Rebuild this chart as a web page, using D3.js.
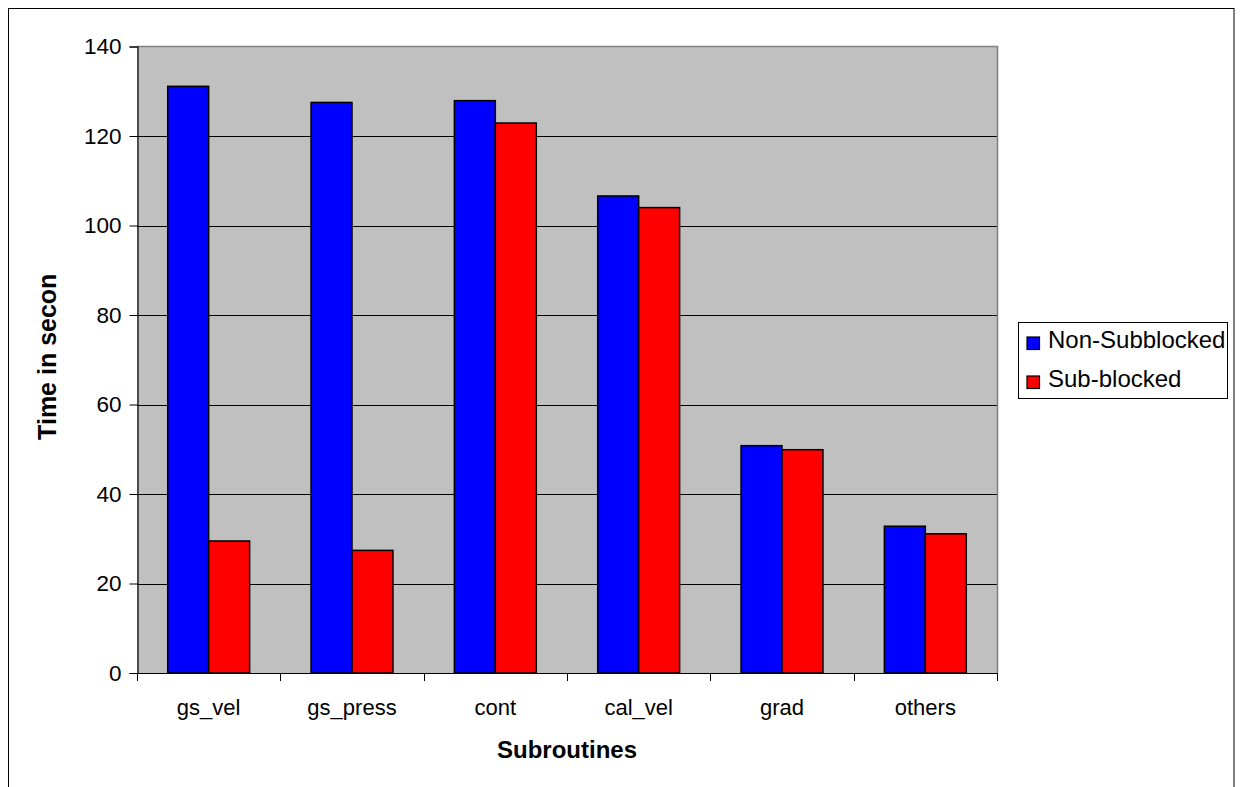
<!DOCTYPE html>
<html>
<head>
<meta charset="utf-8">
<script src="https://cdn.jsdelivr.net/npm/d3@7"></script>
<style>
  html, body { margin: 0; padding: 0; background: #fff; }
  svg { display: block; }
  text { font-family: "Liberation Sans", Arial, sans-serif; fill: #000; }
</style>
</head>
<body>
<svg id="chart" width="1241" height="787"></svg>
<script>
// Run time per subroutine, with and without sub-blocking
const categories = ["gs_vel", "gs_press", "cont", "cal_vel", "grad", "others"];
const seriesNames = ["Non-Subblocked", "Sub-blocked"];
const nonSubblocked = [131.1, 127.5, 127.9, 106.6, 50.8, 32.8];
const subBlocked = [29.5, 27.4, 122.9, 104.0, 49.9, 31.1];
const yTicks = [0, 20, 40, 60, 80, 100, 120, 140];
const seriesColors = ["#0000FF", "#FF0000"];
const xTitle = "Subroutines";
const yTitle = "Time in secon";

const svg = d3.select("#chart");

// outer chart frame
svg.append("rect")
  .attr("x", 8.5).attr("y", 8.5)
  .attr("width", 1225.5).attr("height", 800)
  .attr("fill", "#fff").attr("stroke", "#000").attr("stroke-width", 1);

const plot = { left: 137, right: 997, top: 46.5, bottom: 673 };

const x0 = d3.scaleBand().domain(categories).range([plot.left, plot.right]).padding(0);
const x1 = d3.scaleBand().domain(seriesNames).range([0, x0.bandwidth()])
  .paddingInner(0).paddingOuter(0.75);
const y = d3.scaleLinear().domain([0, 140]).range([plot.bottom, plot.top]);

// plot background
svg.append("rect")
  .attr("x", plot.left).attr("y", plot.top)
  .attr("width", plot.right - plot.left).attr("height", plot.bottom - plot.top)
  .attr("fill", "#C0C0C0");

// horizontal gridlines
svg.append("g").selectAll("line")
  .data(yTicks.filter(d => d > 0 && d < 140))
  .join("line")
  .attr("x1", plot.left).attr("x2", plot.right)
  .attr("y1", d => Math.round(y(d)) + 0.5).attr("y2", d => Math.round(y(d)) + 0.5)
  .attr("stroke", "#000").attr("stroke-width", 1);

// plot border (top and right)
svg.append("path")
  .attr("d", `M${plot.left},${plot.top} H${plot.right + 0.5} V${plot.bottom}`)
  .attr("fill", "none").attr("stroke", "#808080").attr("stroke-width", 1.5);

// bars
const rows = categories.map((c, i) => ({ cat: c, vals: [nonSubblocked[i], subBlocked[i]] }));
const groups = svg.append("g").selectAll("g")
  .data(rows).join("g")
  .attr("transform", d => `translate(${x0(d.cat)},0)`);

groups.selectAll("rect")
  .data(d => d.vals.map((v, j) => ({ s: seriesNames[j], v, j })))
  .join("rect")
  .attr("x", d => x1(d.s))
  .attr("y", d => y(d.v))
  .attr("width", x1.bandwidth())
  .attr("height", d => y(0) - y(d.v))
  .attr("fill", d => seriesColors[d.j])
  .attr("stroke", "#000").attr("stroke-width", 1.5);

// y axis
const yAxis = d3.axisLeft(y).tickValues(yTicks).tickSize(8).tickPadding(8).tickFormat(d3.format("d"));
const gy = svg.append("g").attr("transform", `translate(${plot.left + 0.5},0)`).call(yAxis);
gy.select(".domain").attr("stroke", "#000").attr("stroke-width", 1.2);
gy.selectAll(".tick line").attr("stroke", "#000");
gy.selectAll(".tick text").attr("font-size", 22.5).style("font-family", "Liberation Sans, Arial, sans-serif");

// x axis: ticks at category boundaries, labels at centers
const gx = svg.append("g");
gx.append("line")
  .attr("x1", plot.left).attr("x2", plot.right)
  .attr("y1", plot.bottom + 0.5).attr("y2", plot.bottom + 0.5)
  .attr("stroke", "#000").attr("stroke-width", 1.2);
const bounds = categories.map(c => x0(c)).concat([x0.range()[1]]);
gx.selectAll("line.tk").data(bounds).join("line").attr("class", "tk")
  .attr("x1", d => Math.round(d) + 0.5).attr("x2", d => Math.round(d) + 0.5)
  .attr("y1", plot.bottom).attr("y2", plot.bottom + 8)
  .attr("stroke", "#000");
gx.selectAll("text").data(categories).join("text")
  .attr("x", d => x0(d) + x0.bandwidth() / 2)
  .attr("y", 715)
  .attr("text-anchor", "middle")
  .attr("font-size", 22)
  .text(d => d);

// axis titles
svg.append("text")
  .attr("x", (plot.left + plot.right) / 2).attr("y", 758)
  .attr("text-anchor", "middle").attr("font-size", 24).attr("font-weight", "bold")
  .text(xTitle);
svg.append("text")
  .attr("transform", `translate(56,${(plot.top + plot.bottom) / 2 - 3}) rotate(-90)`)
  .attr("text-anchor", "middle").attr("font-size", 25).attr("font-weight", "bold")
  .text(yTitle);

// legend
const legend = svg.append("g");
legend.append("rect")
  .attr("x", 1018.5).attr("y", 322.5).attr("width", 209).attr("height", 76)
  .attr("fill", "#fff").attr("stroke", "#000").attr("stroke-width", 1);
const li = legend.selectAll("g.item").data(seriesNames).join("g").attr("class", "item")
  .attr("transform", (d, i) => `translate(0,${i * 39})`);
li.append("rect")
  .attr("x", 1027).attr("y", 337).attr("width", 12.5).attr("height", 12.5)
  .attr("fill", (d, i) => seriesColors[i]).attr("stroke", "#000").attr("stroke-width", 1.2);
li.append("text")
  .attr("x", 1048).attr("y", 348)
  .attr("font-size", 24)
  .text(d => d);
</script>
</body>
</html>
